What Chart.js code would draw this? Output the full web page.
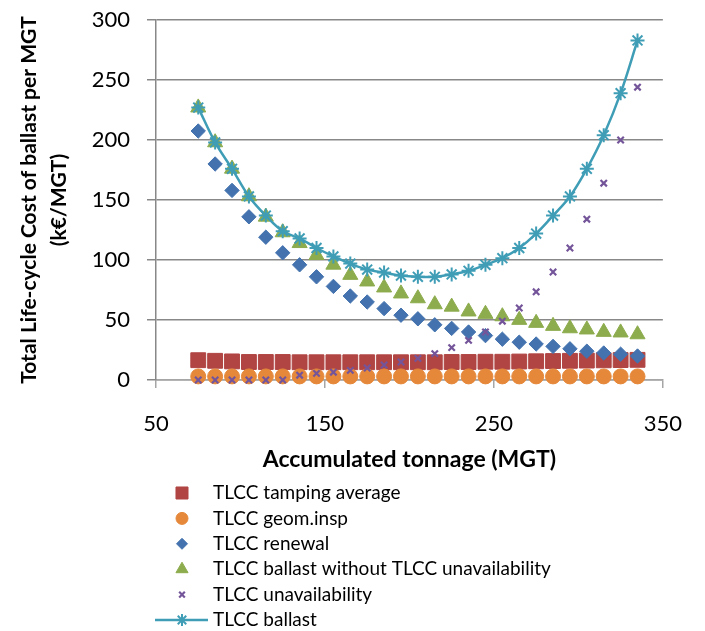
<!DOCTYPE html>
<html>
<head>
<meta charset="utf-8">
<script src="https://cdn.jsdelivr.net/npm/chart.js@4.4.1/dist/chart.umd.min.js"></script>
<style>
  html, body { margin: 0; padding: 0; background: #fff; }
  #wrap { width: 705px; height: 631px; }
</style>
</head>
<body>
<div id="wrap"><canvas id="chart" width="705" height="631"></canvas></div>
<script>
// accumulated tonnage (MGT)
const tonnage = [75, 85, 95, 105, 115, 125, 135, 145, 155, 165, 175, 185, 195, 205,
  215, 225, 235, 245, 255, 265, 275, 285, 295, 305, 315, 325, 335]

// cost series (k€/MGT)
const tamping = [16.5, 16, 15.5, 15, 15, 15, 14.8, 14.8, 14.8, 14.8, 14.8, 14.8, 14.8, 14.8,
  14.8, 15, 15, 15.2, 15.2, 15.4, 15.6, 15.8, 16, 16.2, 16.4, 16.6, 16.8]
const geomInsp = [3, 3, 3, 3, 3, 3, 3, 3, 3, 3, 3, 3, 3, 3,
  3, 3, 3, 3, 3, 3, 3, 3, 3, 3, 3, 3, 3]
const renewal = [207.5, 180, 158, 136, 119, 106, 96, 86, 78, 70, 65, 59.5, 54, 51,
  46, 43, 40, 37, 34, 31.5, 30, 28, 26, 24, 22.5, 21.5, 20]
const withoutUnavail = [227, 198, 176, 153, 136, 123, 114, 104, 96, 87.5, 82, 77, 72, 68,
  63, 61, 57, 55, 53, 50, 47.5, 45, 43, 42, 40, 39.5, 38]
const unavailability = [0, 0, 0, 0, 0, 0, 4, 5.5, 6.5, 8, 10, 12.5, 15, 18,
  22, 27, 33, 40, 49, 60, 73.5, 90, 110, 134, 164, 200, 244]
const ballast = [227, 198, 176, 153, 137, 124, 118, 110, 103, 97, 92, 89.5, 87, 86,
  86, 88, 91, 96, 101.5, 110, 122, 137, 153, 176, 204, 239, 283]

const seriesNames = ['TLCC tamping average', 'TLCC geom.insp', 'TLCC renewal',
  'TLCC ballast without TLCC unavailability', 'TLCC unavailability', 'TLCC ballast']
const xTicks = [50, 150, 250, 350]
const yTicks = [0, 50, 100, 150, 200, 250, 300]

const red = '#b04543'
const orange = '#e5883a'
const blue = '#4372ae'
const green = '#8dac4d'
const purple = '#74559a'
const teal = '#3f9db6'
const gridColor = '#888888'
const axisColor = '#a6a6a6'

Chart.defaults.font.family = "Lato, 'Open Sans', sans-serif"
Chart.defaults.color = '#000'

const pts = ys => tonnage.map((x, i) => ({ x, y: ys[i] }))

function markerSet(label, ys, color, style, r, bw, legendR, order) {
  return {
    label,
    data: pts(ys),
    pointStyle: style,
    pointRadius: r,
    pointBackgroundColor: color,
    pointBorderColor: color,
    pointBorderWidth: bw,
    backgroundColor: color,
    borderColor: color,
    showLine: false,
    legendR,
    order,
    clip: false,
  }
}

const datasets = [
  markerSet(seriesNames[0], tamping, red, 'rect', 10.5, 1, 8.5, 6),
  markerSet(seriesNames[1], geomInsp, orange, 'circle', 7.5, 1, 6, 5),
  markerSet(seriesNames[2], renewal, blue, 'rectRot', 7.2, 1, 5.5, 4),
  markerSet(seriesNames[3], withoutUnavail, green, 'triangle', 8.7, 1, 7, 3),
  markerSet(seriesNames[4], unavailability, purple, 'crossRot', 4.5, 2.2, 4, 2),
  {
    ...markerSet(seriesNames[5], ballast, teal, 'star', 7, 2, 6, 1),
    showLine: true,
    borderWidth: 2.5,
    tension: 0.35,
  },
]

// vertical legend under the plot, like the original
const stackedLegend = {
  id: 'stackedLegend',
  afterDraw(chart) {
    const ctx = chart.ctx
    ctx.save()
    chart.data.datasets.forEach((ds, i) => {
      const y = 493 + i * 25.4
      if (ds.showLine) {
        ctx.strokeStyle = ds.borderColor
        ctx.lineWidth = ds.borderWidth
        ctx.beginPath()
        ctx.moveTo(155, y)
        ctx.lineTo(208, y)
        ctx.stroke()
      }
      ctx.fillStyle = ds.pointBackgroundColor
      ctx.strokeStyle = ds.pointBorderColor
      ctx.lineWidth = ds.pointBorderWidth
      Chart.helpers.drawPoint(ctx, {
        pointStyle: ds.pointStyle,
        radius: ds.legendR,
        rotation: 0,
        borderWidth: ds.pointBorderWidth,
      }, 182, y)
      ctx.fillStyle = '#000'
      ctx.font = "19px Lato, 'Open Sans', sans-serif"
      ctx.textBaseline = 'middle'
      ctx.textAlign = 'left'
      ctx.fillText(ds.label, 213, y)
    })
    ctx.restore()
  }
}

new Chart(document.getElementById('chart'), {
  type: 'scatter',
  data: { datasets },
  plugins: [stackedLegend],
  options: {
    responsive: false,
    animation: false,
    layout: { padding: { left: 0, right: 38, top: 20, bottom: 151 } },
    plugins: {
      legend: { display: false },
      tooltip: { enabled: false },
    },
    scales: {
      x: {
        type: 'linear',
        min: 50,
        max: 350,
        afterBuildTicks: s => { s.ticks = xTicks.map(value => ({ value })) },
        afterFit: s => { s.height = 100 },
        ticks: { padding: 23, font: { size: 22 }, maxRotation: 0 },
        grid: { drawOnChartArea: false, drawTicks: true, tickLength: 8, color: axisColor, lineWidth: 1.5 },
        border: { color: axisColor, width: 1.5 },
        title: {
          display: true,
          text: 'Accumulated tonnage (MGT)',
          font: { size: 23, weight: 'bold' },
          padding: { top: 0, bottom: 7 },
        },
      },
      y: {
        min: 0,
        max: 300,
        afterBuildTicks: s => { s.ticks = yTicks.map(value => ({ value })) },
        afterFit: s => {
          s.width = 156
          s.paddingTop = 0
          s.paddingBottom = 0
        },
        ticks: { padding: 17, font: { size: 22 } },
        grid: { color: gridColor, lineWidth: 1.5, drawTicks: true, tickLength: 9 },
        border: { color: gridColor, width: 1.5 },
        title: {
          display: true,
          text: ['Total Life-cycle Cost of ballast per MGT', '(k€/MGT)'],
          font: { size: 21, weight: 'bold', lineHeight: 1.4 },
          padding: { top: 15, bottom: 0 },
        },
      },
    },
  },
})
</script>
</body>
</html>
